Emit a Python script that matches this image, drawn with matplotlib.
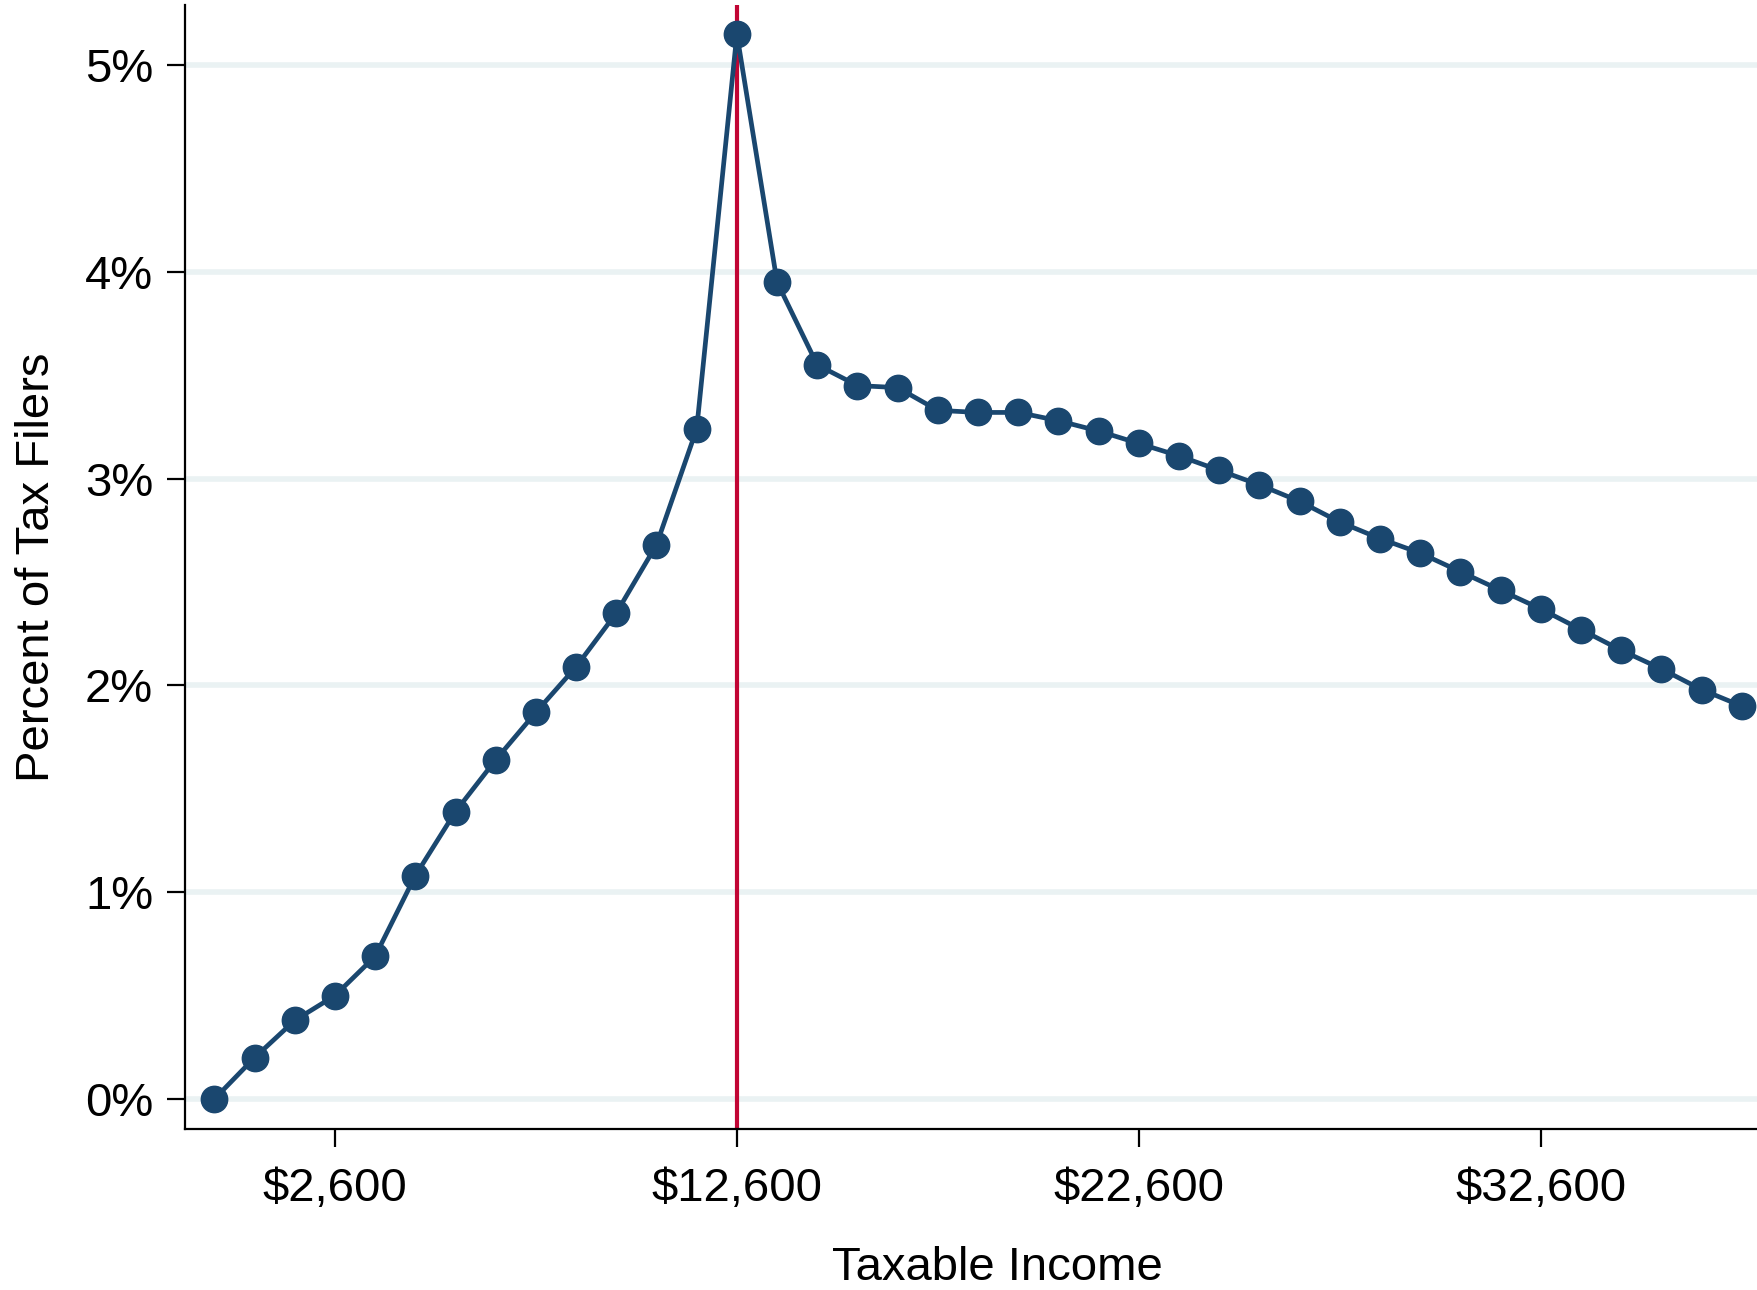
import numpy as np
import matplotlib
matplotlib.use("Agg")
import matplotlib.pyplot as plt
from matplotlib.ticker import FuncFormatter

# taxable income bins (bin centres, $1,000 wide)
income = np.arange(-400, 38600, 1000)
share = [0.00, 0.20, 0.38, 0.50, 0.69, 1.08, 1.39, 1.64, 1.87, 2.09,
         2.35, 2.68, 3.24, 5.15, 3.95, 3.55, 3.45, 3.44, 3.33, 3.32,
         3.32, 3.28, 3.23, 3.17, 3.11, 3.04, 2.97, 2.89, 2.79, 2.71,
         2.64, 2.55, 2.46, 2.37, 2.27, 2.17, 2.08, 1.98, 1.90]
kink = 12600
xticks = [2600, 12600, 22600, 32600]
yticks = [0, 1, 2, 3, 4, 5]

navy = "#1a476f"
red = "#c10534"

plt.rcParams["font.family"] = ["Liberation Sans", "DejaVu Sans"]

fig = plt.figure(figsize=(17.57, 12.90), dpi=100)
ax = fig.add_axes([0.1053, 0.1248, 0.8947, 0.8713])

for y in yticks:
    ax.axhline(y, color="#eaf2f3", lw=4, zorder=0)
ax.axvline(kink, color=red, lw=3, zorder=1)
ax.plot(income, share, "-o", color=navy, lw=3.4, ms=19, zorder=3, clip_on=False)

ax.set_xlim(-1130, 37980)
ax.set_ylim(-0.145, 5.29)
ax.set_xticks(xticks)
ax.set_yticks(yticks)
ax.xaxis.set_major_formatter(FuncFormatter(lambda v, p: "${:,.0f}".format(v)))
ax.yaxis.set_major_formatter(FuncFormatter(lambda v, p: "{:.0f}%".format(v)))

for s in ["top", "right"]:
    ax.spines[s].set_visible(False)
for s in ["left", "bottom"]:
    ax.spines[s].set_linewidth(1.6)
ax.tick_params(axis="both", labelsize=34, length=13, width=1.6)
ax.tick_params(axis="x", pad=14)
ax.tick_params(axis="y", pad=10)

ax.set_xlabel("Taxable Income", fontsize=34)
ax.set_ylabel("Percent of Tax Filers", fontsize=34)
ax.xaxis.set_label_coords(0.5165, -0.104)
ax.yaxis.set_label_coords(-0.080, 0.5)

fig.savefig("out.png", dpi=100)
